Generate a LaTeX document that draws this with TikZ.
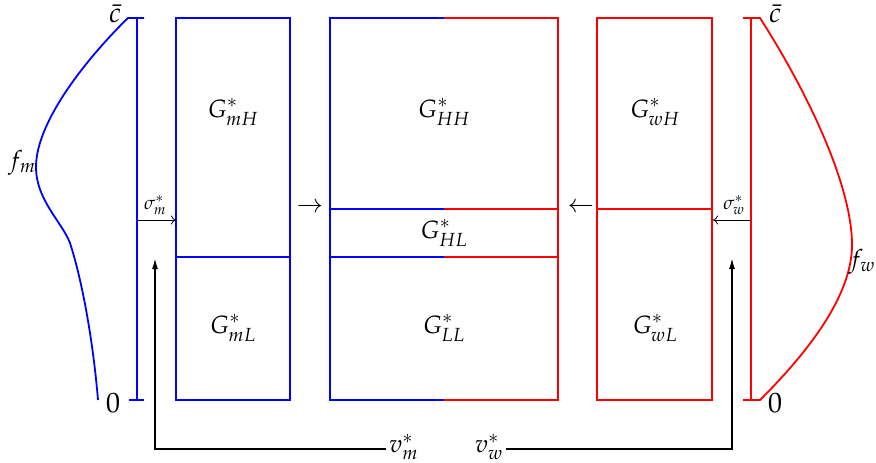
\documentclass[tikz,border=0pt]{standalone}
\usepackage{mathpazo}
\usetikzlibrary{arrows.meta}
\definecolor{mblue}{RGB}{0,0,255}
\definecolor{wred}{RGB}{255,0,0}
\begin{document}
\begin{tikzpicture}[x=1pt,y=-1pt,
  bl/.style={draw=mblue,line width=1.8pt},
  rd/.style={draw=wred,line width=1.8pt},
  lbl/.style={inner sep=0pt,font=\fontsize{25}{30}\selectfont},
  big/.style={inner sep=0pt,font=\fontsize{28}{32}\selectfont},
  small/.style={inner sep=0pt,font=\fontsize{19}{22}\selectfont},
  sig/.style={draw=black,line width=0.8pt,-{To[length=5pt,width=9pt]}},
  feed/.style={draw=black,line width=1.6pt,-{Latex[length=11pt,width=6pt]}}]
\useasboundingbox (0,0) rectangle (876,463);

% distribution of men's types (left)
\draw[bl] (144,18) -- (128,18)
  .. controls (95,50) and (36,118) .. (36,167)
  .. controls (36,200) and (62,222) .. (70,243)
  .. controls (82,280) and (93,340) .. (98,400);
\draw[bl] (137,18) -- (137,400);
\draw[bl] (129,400) -- (144,400);
\node[lbl] (fm) at (22,163) {$f_m$};
\node[big] (cm) at (115,14) {$\bar c$};
\node[big] (zm) at (113,403) {$0$};

% men's side groups
\draw[bl] (176,18) rectangle (290,400);
\draw[bl] (176,257) -- (290,257);
\node[lbl] (GmH) at (233,112) {$G^*_{mH}$};
\node[lbl] (GmL) at (233,328) {$G^*_{mL}$};

% matched groups
\draw[bl] (444,18) -- (330,18) -- (330,400) -- (444,400);
\draw[bl] (330,209) -- (444,209);
\draw[bl] (330,257) -- (444,257);
\draw[rd] (444,18) -- (558,18) -- (558,400) -- (444,400);
\draw[rd] (444,209) -- (558,209);
\draw[rd] (444,257) -- (558,257);
\node[lbl] (GHH) at (444,112) {$G^*_{HH}$};
\node[lbl] (GHL) at (444,233) {$G^*_{HL}$};
\node[lbl] (GLL) at (444,328) {$G^*_{LL}$};

% women's side groups
\draw[rd] (597,18) rectangle (712,400);
\draw[rd] (597,209) -- (712,209);
\node[lbl] (GwH) at (655,112) {$G^*_{wH}$};
\node[lbl] (GwL) at (655,328) {$G^*_{wL}$};

% flows into the matched groups
\node[lbl] (ra) at (310,208) {$\rightarrow$};
\node[lbl] (la) at (581,208) {$\leftarrow$};

% distribution of women's types (right)
\draw[rd] (743,18) -- (760,18)
  .. controls (800,80) and (852,180) .. (852,245)
  .. controls (852,300) and (800,360) .. (760,400) -- (743,400);
\draw[rd] (751,18) -- (751,400);
\node[lbl] (fw) at (862,262) {$f_w$};
\node[big] (cw) at (775,14) {$\bar c$};
\node[big] (zw) at (775,403) {$0$};

% thresholds
\coordinate (sm0) at (137,220);
\coordinate (sm1) at (176,220);
\draw[sig] (sm0) -- (sm1);
\node[small] (sml) at (155,205) {$\sigma^*_m$};
\coordinate (sw0) at (751,220);
\coordinate (sw1) at (713,220);
\draw[sig] (sw0) -- (sw1);
\node[small] (swl) at (734,205) {$\sigma^*_w$};

% values fed back
\coordinate (low) at (0,449);
\coordinate (tm) at (155,258);
\coordinate (tw) at (732,258);
\node[lbl,anchor=west] (vm) at (389,447) {$v^*_m$};
\node[lbl,anchor=east] (vw) at (503,447) {$v^*_w$};
\draw[feed] ([xshift=-3pt]vm.west |- low) -| (tm);
\draw[feed] ([xshift=3pt]vw.east |- low) -| (tw);
\end{tikzpicture}
\end{document}
